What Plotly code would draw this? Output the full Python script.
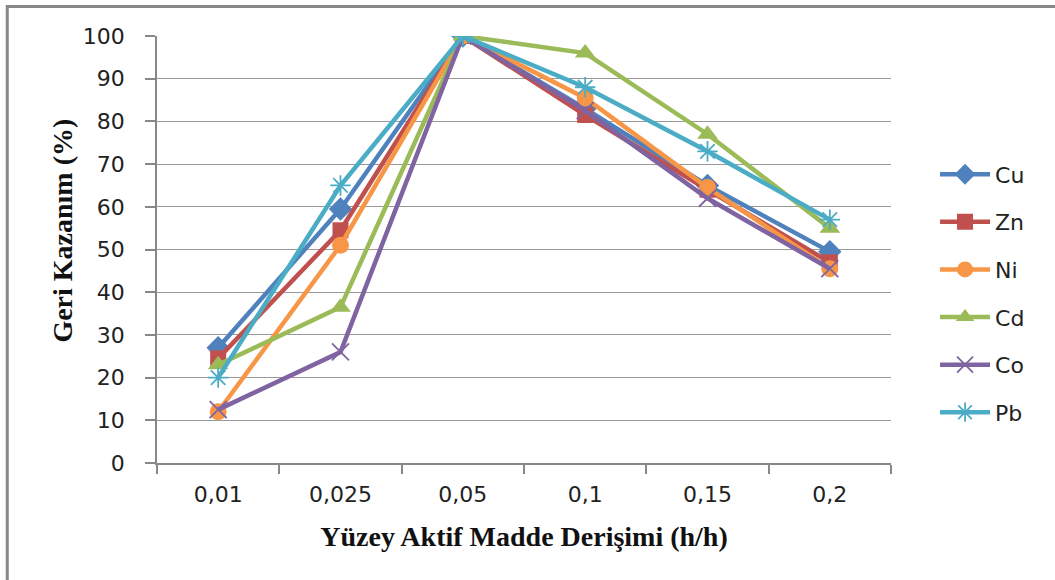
import plotly.graph_objects as go

categories = ["0,01", "0,025", "0,05", "0,1", "0,15", "0,2"]
cu = [27, 59.5, 100, 83, 65, 49.5]
zn = [24.5, 54.5, 100, 81.5, 64, 47]
ni = [12, 51, 100, 85.5, 64.5, 45.5]
cd = [23, 36.5, 100, 96, 77, 55]
co = [12.5, 26, 100, 82.5, 62, 45.5]
pb = [20, 65, 100, 88, 73, 57]
y_ticks = [0, 10, 20, 30, 40, 50, 60, 70, 80, 90, 100]

series = [
    ("Cu", cu, "#4F81BD", "diamond", 18, None),
    ("Zn", zn, "#C0504D", "square", 16, None),
    ("Ni", ni, "#F79646", "circle", 17, None),
    ("Cd", cd, "#9BBB59", "triangle-up", 18, None),
    ("Co", co, "#8064A2", "x-thin-open", 17, 1.8),
    ("Pb", pb, "#4BACC6", "asterisk-open", 17, 1.8),
]

fig = go.Figure()
for i, (name, vals, color, sym, size, mlw) in enumerate(series):
    marker = dict(symbol=sym, size=size, color=color)
    if mlw is not None:
        marker["line"] = dict(width=mlw, color=color)
    fig.add_trace(go.Scatter(
        x=categories, y=vals, name=name, mode="lines+markers",
        line=dict(color=color, width=4.5),
        marker=marker,
        legendgroup=name,
    ))

tick_font = dict(family="DejaVu Sans, sans-serif", size=22, color="#222")
title_font = dict(family="Liberation Serif, serif", size=28, color="#111")

fig.update_layout(
    width=1055, height=580,
    margin=dict(l=157, r=164, t=36, b=117),
    paper_bgcolor="white", plot_bgcolor="white",
    font=tick_font,
    legend=dict(
        x=1.06, y=0.725, xanchor="left", yanchor="top",
        font=tick_font, itemwidth=50,
        tracegroupgap=16, bgcolor="rgba(0,0,0,0)",
    ),
    showlegend=True,
)
fig.update_xaxes(
    type="category", range=[-0.5, 5.5], showgrid=False, showline=True,
    linecolor="#888", linewidth=1.5,
    ticks="outside", tickson="boundaries", ticklen=9, tickcolor="#888", tickwidth=1.5,
    tickfont=tick_font, ticklabelstandoff=11,
    title=dict(text="<b>Yüzey Aktif Madde Derişimi (h/h)</b>", font=title_font, standoff=20),
)
fig.update_yaxes(
    range=[0, 100], tickvals=y_ticks, showgrid=True, gridcolor="#999", gridwidth=1.3,
    showline=True, linecolor="#888", linewidth=1.5, zeroline=False,
    ticks="outside", ticklen=10, tickcolor="#888", tickwidth=1.5,
    tickfont=tick_font, ticklabelstandoff=16,
)
fig.add_annotation(
    text="<b>Geri Kazanım (%)</b>", font=title_font, textangle=-90,
    xref="paper", yref="paper", x=-0.129, y=0.545,
    xanchor="center", yanchor="middle", showarrow=False,
)
fig.add_shape(type="rect", xref="paper", yref="paper",
              x0=-0.204, x1=1.3, y0=-0.3, y1=1.069,
              line=dict(color="#888", width=3), fillcolor="rgba(0,0,0,0)", layer="below")

fig.write_html("out.html")
